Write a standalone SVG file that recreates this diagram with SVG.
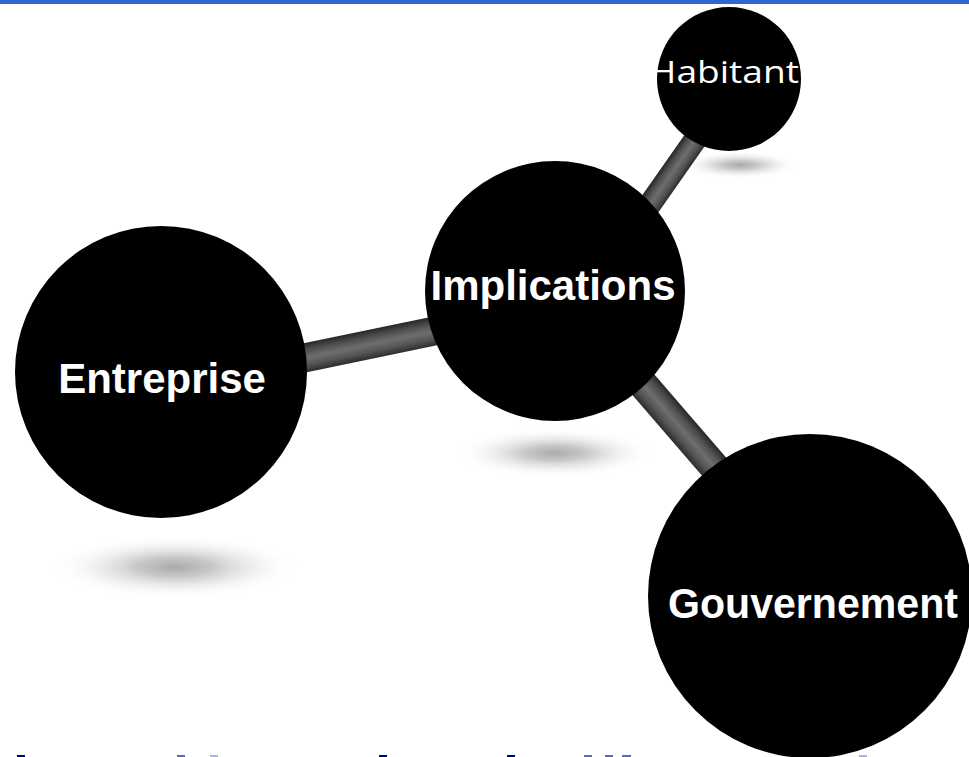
<svg xmlns="http://www.w3.org/2000/svg" width="969" height="757" viewBox="0 0 969 757">
<style>
.node{fill:#000}
.lbl{fill:#fff;font-family:"Liberation Sans",Arial,sans-serif;font-weight:bold;font-size:42px;text-anchor:middle}
.lbl2{fill:#fff;font-family:"Open Sans","DejaVu Sans",sans-serif;font-size:31px;text-anchor:middle}
.bar{fill:url(#barGrad)}
.shadow{fill:url(#shadowGrad)}
.frag{fill:#000080}
</style>
<defs>
<linearGradient id="barGrad" x1="0" y1="0" x2="0" y2="1">
<stop offset="0" stop-color="#262626"/>
<stop offset="0.25" stop-color="#505050"/>
<stop offset="0.5" stop-color="#6e6e6e"/>
<stop offset="0.75" stop-color="#555555"/>
<stop offset="1" stop-color="#2c2c2c"/>
</linearGradient>
<radialGradient id="shadowGrad" cx="0.5" cy="0.5" r="0.5">
<stop offset="0" stop-color="#a0a0a0" stop-opacity="0.9"/>
<stop offset="0.3" stop-color="#b0b0b0" stop-opacity="0.7"/>
<stop offset="0.65" stop-color="#d0d0d0" stop-opacity="0.3"/>
<stop offset="1" stop-color="#ffffff" stop-opacity="0"/>
</radialGradient>
</defs>
<rect x="0" y="0" width="969" height="757" fill="#fff"/>
<rect x="0" y="0" width="969" height="4" fill="#3366cc"/>
<g id="shadows">
<ellipse class="shadow" cx="175" cy="567" rx="125" ry="32"/>
<ellipse class="shadow" cx="555" cy="453" rx="100" ry="25"/>
<ellipse class="shadow" cx="740" cy="165" rx="60" ry="14"/>
</g>
<g id="connectors">
<rect class="bar" x="-120" y="-14.5" width="240" height="29" transform="translate(367,345) rotate(-11.7)"/>
<rect class="bar" x="-60" y="-11.5" width="130" height="23" transform="translate(674,170) rotate(-55)"/>
<rect class="bar" x="-90" y="-15" width="180" height="30" transform="translate(679,426) rotate(49.2)"/>
</g>
<g id="node-entreprise">
<circle class="node" cx="161" cy="372" r="146"/>
<text class="lbl" x="162" y="393">Entreprise</text>
</g>
<g id="node-implications">
<circle class="node" cx="555" cy="291" r="130"/>
<text class="lbl" x="553" y="300">Implications</text>
</g>
<g id="node-habitant">
<circle class="node" cx="729" cy="79" r="72"/>
<text class="lbl2" x="724" y="83" textLength="150" lengthAdjust="spacingAndGlyphs">Habitant</text>
</g>
<g id="node-gouvernement">
<circle class="node" cx="810" cy="596" r="162"/>
<text class="lbl" x="813" y="618" textLength="290" lengthAdjust="spacingAndGlyphs">Gouvernement</text>
</g>
<g id="fragments">
<rect class="frag" x="17" y="755" width="8" height="2"/>
<rect class="frag" x="177" y="755" width="8" height="2" opacity="0.6"/>
<rect class="frag" x="210" y="755" width="8" height="2" opacity="0.3"/>
<rect class="frag" x="379" y="755" width="8" height="2"/>
<rect class="frag" x="507" y="755" width="8" height="2"/>
<rect class="frag" x="584" y="755" width="8" height="2" opacity="0.6"/>
<rect class="frag" x="605" y="755" width="8" height="2" opacity="0.6"/>
<rect class="frag" x="622" y="755" width="9" height="2" opacity="0.6"/>
<rect class="frag" x="859" y="755" width="8" height="2" opacity="0.3"/>
</g>
</svg>
